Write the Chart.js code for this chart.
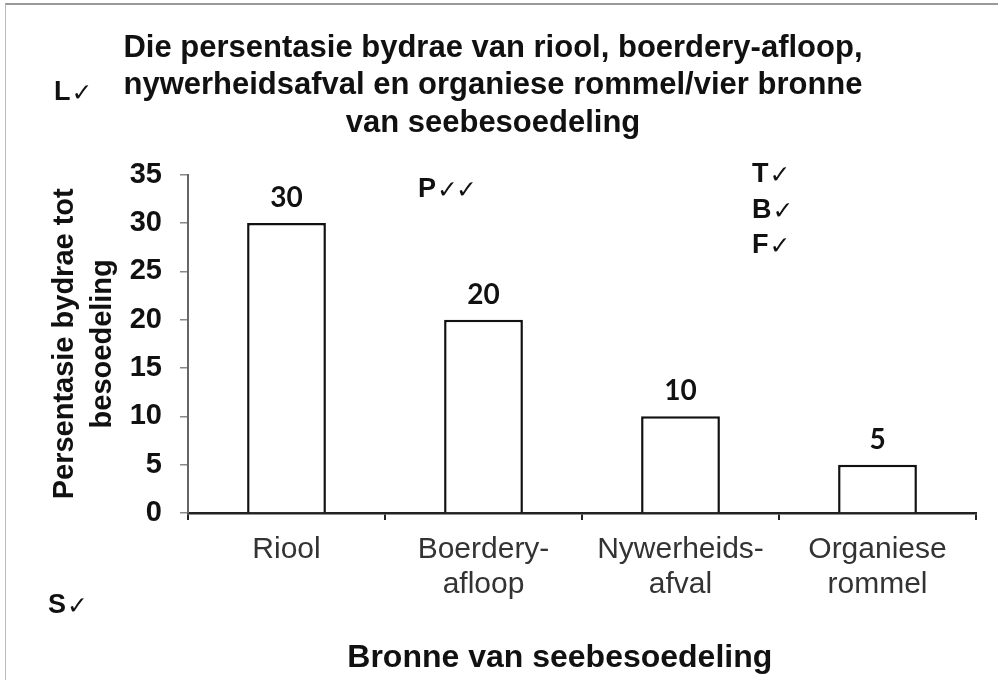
<!DOCTYPE html>
<html>
<head>
<meta charset="utf-8">
<script src="https://cdn.jsdelivr.net/npm/chart.js@4.4.1/dist/chart.umd.min.js"></script>
<style>
  html, body { margin: 0; padding: 0; background: #fff; }
  #wrap { position: relative; width: 1002px; height: 680px; }
  #frame { position: absolute; left: 5px; top: 3px; right: 4px; bottom: 0; border-top: 2px solid #999; border-left: 1px solid #bbb; pointer-events: none; }
</style>
</head>
<body>
<div id="wrap">
  <canvas id="grafiek" width="1002" height="680"></canvas>
  <div id="frame"></div>
</div>
<script>
// data
const categories = [['Riool'], ['Boerdery-', 'afloop'], ['Nywerheids-', 'afval'], ['Organiese', 'rommel']];
const values = [30, 20, 10, 5];
const yTicks = [0, 5, 10, 15, 20, 25, 30, 35];

// merk-aantekeninge (letter + aantal regmerkies)
const marks = [
  { txt: 'L', n: 1, x: 54, y: 93 },
  { txt: 'P', n: 2, x: 418, y: 190 },
  { txt: 'T', n: 1, x: 752, y: 175 },
  { txt: 'B', n: 1, x: 752, y: 211 },
  { txt: 'F', n: 1, x: 752, y: 246 },
  { txt: 'S', n: 1, x: 48, y: 606 }
];

const AR = 'Liberation Sans, Arial, sans-serif';

const waardes = {
  id: 'waardes',
  afterDatasetsDraw(chart) {
    const ctx = chart.ctx;
    const meta = chart.getDatasetMeta(0);
    ctx.save();
    ctx.font = 'bold 28px Lato, "Open Sans", sans-serif';
    ctx.fillStyle = '#111';
    ctx.textAlign = 'center';
    ctx.textBaseline = 'middle';
    meta.data.forEach((bar, i) => {
      ctx.fillText(values[i], bar.x, bar.y - 25);
    });
    ctx.restore();
  }
};

const merke = {
  id: 'merke',
  afterDraw(chart) {
    const ctx = chart.ctx;
    ctx.save();
    ctx.textBaseline = 'middle';
    ctx.fillStyle = '#111';
    marks.forEach(m => {
      ctx.font = 'bold 27px ' + AR;
      ctx.textAlign = 'left';
      ctx.fillText(m.txt, m.x, m.y);
      let x = m.x + ctx.measureText(m.txt).width + 1;
      ctx.font = '25px "DejaVu Sans", sans-serif';
      for (let k = 0; k < m.n; k++) {
        ctx.fillText('\u2713', x, m.y + 1);
        x += ctx.measureText('\u2713').width - 2;
      }
    });
    ctx.restore();
  }
};

new Chart(document.getElementById('grafiek'), {
  type: 'bar',
  data: {
    labels: categories,
    datasets: [{
      data: values,
      backgroundColor: '#fff',
      borderColor: '#111',
      borderWidth: 2.5,
      borderSkipped: 'bottom',
      barPercentage: 0.4,
      categoryPercentage: 1
    }]
  },
  options: {
    responsive: false,
    animation: false,
    layout: { padding: { left: 10, right: 26, top: 0, bottom: 0 } },
    plugins: {
      legend: { display: false },
      tooltip: { enabled: false },
      title: {
        display: true,
        text: ['Die persentasie bydrae van riool, boerdery-afloop,', 'nywerheidsafval en organiese rommel/vier bronne', 'van seebesoedeling'],
        color: '#111',
        font: { family: AR, size: 31, weight: 'bold', lineHeight: 1.2 },
        padding: { top: 30, bottom: 33 }
      }
    },
    scales: {
      x: {
        grid: { drawOnChartArea: false, drawTicks: true, tickLength: 7, color: '#222', lineWidth: 2, offset: true },
        border: { color: '#222', width: 2.5 },
        ticks: { color: '#333', font: { family: AR, size: 30, lineHeight: 1.18 }, padding: 12, maxRotation: 0, autoSkip: false },
        title: {
          display: true,
          // agterste spasies skuif die titel effens links, soos in die oorspronklike
          text: 'Bronne van seebesoedeling\u00A0\u00A0\u00A0\u00A0\u00A0',
          color: '#111',
          font: { family: AR, size: 32, weight: 'bold' },
          padding: { top: 20, bottom: 3 }
        },
        afterFit(s) { s.height = 167; }
      },
      y: {
        min: 0,
        max: 35,
        afterBuildTicks(s) { s.ticks = yTicks.map(v => ({ value: v })); },
        grid: { drawOnChartArea: false, drawTicks: true, tickLength: 8, color: '#888', lineWidth: 1.5 },
        border: { color: '#666', width: 2 },
        ticks: { color: '#111', font: { family: AR, size: 29, weight: 'bold' }, padding: 18 },
        title: {
          display: true,
          text: ['Persentasie bydrae tot', 'besoedeling'],
          color: '#111',
          font: { family: AR, size: 29, weight: 'bold', lineHeight: 1.3 },
          padding: { top: 36, bottom: 4 }
        },
        afterFit(s) { s.width = 178; }
      }
    }
  },
  plugins: [waardes, merke]
});
</script>
</body>
</html>
